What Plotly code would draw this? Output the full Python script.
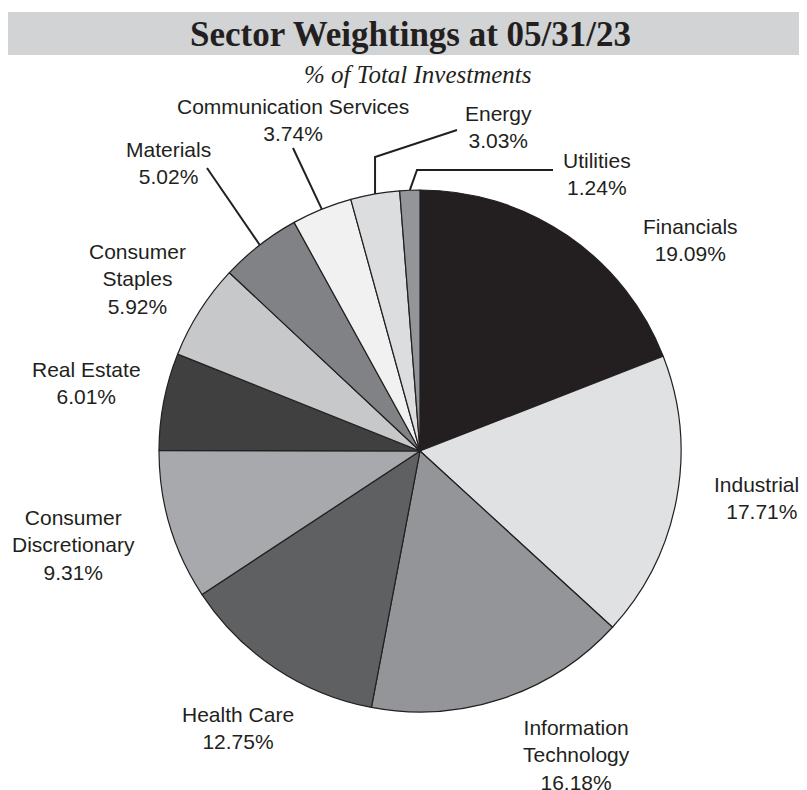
import math
import plotly.graph_objects as go

# sector data, clockwise from 12 o'clock
sectors = ["Financials", "Industrials", "Information Technology", "Health Care",
           "Consumer Discretionary", "Real Estate", "Consumer Staples", "Materials",
           "Communication Services", "Energy", "Utilities"]
weights = [19.09, 17.71, 16.18, 12.75, 9.31, 6.01, 5.92, 5.02, 3.74, 3.03, 1.24]
label_text = ["Financials", "Industrials", "Information<br>Technology", "Health Care",
              "Consumer<br>Discretionary", "Real Estate", "Consumer<br>Staples", "Materials",
              "Communication Services", "Energy", "Utilities"]
slice_colors = ["#231f20", "#e0e1e2", "#939598", "#5f6062", "#a7a9ac", "#404041",
                "#c7c8ca", "#808285", "#f1f1f2", "#dcdddf", "#939598"]

# page has an 8px body margin, so the figure is drawn 8px in from the window corner
OFF = 8
W, H = 807 - OFF, 790 - OFF
CX, CY, R = 420, 451, 261

# label centres in window pixels (layout only)
label_pos = {
    "Financials": (690, 240),
    "Industrials": (762, 498),
    "Information Technology": (576, 755),
    "Health Care": (238, 728),
    "Consumer Discretionary": (73, 545),
    "Real Estate": (86, 383),
    "Consumer Staples": (137, 279),
    "Materials": (168, 163),
    "Communication Services": (293, 120),
    "Energy": (498, 127),
    "Utilities": (597, 174),
}
# leader line bends (window pixels) for the small slices
leader_bends = {
    "Utilities": [(417, 170), (553, 170)],
    "Energy": [(None, 157), (457, 130)],
    "Communication Services": [(293, 148)],
    "Materials": [(207, 168)],
}


def px(x):
    return (x - OFF) / W


def py(y):
    return 1 - (y - OFF) / H


fig = go.Figure()
fig.add_trace(go.Pie(
    labels=sectors, values=weights, sort=False, direction="clockwise", rotation=0,
    marker=dict(colors=slice_colors, line=dict(color="#231f20", width=1.2)),
    textinfo="none", hoverinfo="label+percent", showlegend=False,
    domain=dict(x=[px(CX - R), px(CX + R)], y=[py(CY + R), py(CY - R)]),
))

shapes = [dict(type="rect", xref="paper", yref="paper", x0=px(8), x1=1, y0=py(55), y1=py(12),
               fillcolor="#d1d3d4", line=dict(width=0), layer="below")]

annotations = [
    dict(text="<b>Sector Weightings at 05/31/23</b>", x=px(410), y=py(34), xref="paper", yref="paper",
         showarrow=False, xanchor="center", yanchor="middle",
         font=dict(family="Liberation Serif", size=35, color="#231f20")),
    dict(text="<i>% of Total Investments</i>", x=px(418), y=py(75), xref="paper", yref="paper",
         showarrow=False, xanchor="center", yanchor="middle",
         font=dict(family="Liberation Serif", size=25, color="#231f20")),
]

total = sum(weights)
cum = 0
for name, w, txt in zip(sectors, weights, label_text):
    mid = (cum + w / 2) / total * 2 * math.pi
    cum += w
    lx, ly = label_pos[name]
    annotations.append(dict(
        text=f"{txt}<br>{w:.2f}%", x=px(lx), y=py(ly), xref="paper", yref="paper",
        showarrow=False, xanchor="center", yanchor="middle", align="center",
        font=dict(family="Liberation Sans", size=21, color="#231f20")))
    if name in leader_bends:
        ex, ey = CX + R * math.sin(mid), CY - R * math.cos(mid)
        pts = [(ex, ey)]
        for bx, by in leader_bends[name]:
            pts.append((ex if bx is None else bx, by))
        path = "M " + " L ".join(f"{px(a):.5f},{py(b):.5f}" for a, b in pts)
        shapes.append(dict(type="path", xref="paper", yref="paper", path=path,
                           line=dict(color="#231f20", width=2)))

fig.update_layout(
    width=W, height=H, margin=dict(l=0, r=0, t=0, b=0),
    paper_bgcolor="white", plot_bgcolor="white",
    shapes=shapes, annotations=annotations,
)

fig.write_html("out.html")
